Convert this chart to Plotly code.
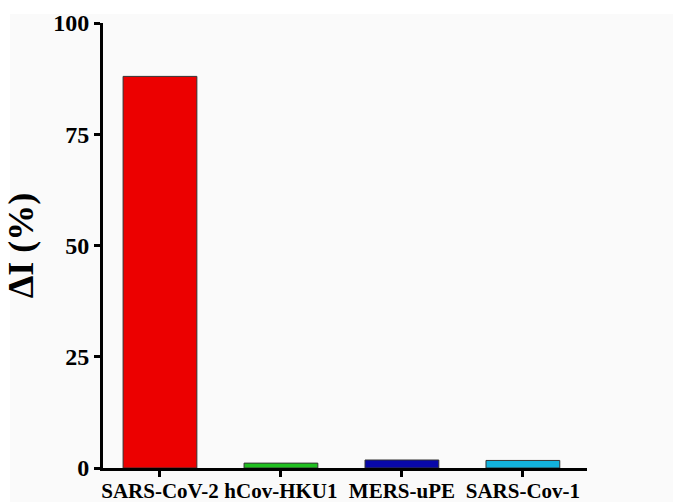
import plotly.graph_objects as go

categories = ["SARS-CoV-2", "hCov-HKU1", "MERS-uPE", "SARS-Cov-1"]
values = [88.0, 1.1, 1.8, 1.7]
colors = ["#ec0000", "#1fbf1f", "#0808a8", "#12b2dc"]
y_ticks = [0, 25, 50, 75, 100]

W, H = 673, 502
L, R, T, B = 103, 86, 23, 34
pw, ph = W - L - R, H - T - B

fig = go.Figure()
fig.add_trace(go.Bar(
    x=categories, y=values, width=0.61,
    marker=dict(color=colors, line=dict(color="#333333", width=1)),
))

font = "Liberation Serif, Times New Roman, serif"
fig.update_layout(
    width=W, height=H,
    margin=dict(l=L, r=R, t=T, b=B),
    paper_bgcolor="white", plot_bgcolor="rgba(0,0,0,0)",
    showlegend=False,
    font=dict(family=font, color="black"),
    shapes=[dict(type="rect", xref="paper", yref="paper", layer="below",
                 x0=(10 - L) / pw, x1=(W - L) / pw,
                 y0=-(B) / ph, y1=(H - B - 14) / ph,
                 fillcolor="#fafafa", line=dict(width=0))],
    xaxis=dict(range=[-0.471, 3.53], showgrid=False, zeroline=False, automargin=False,
               showline=True, linecolor="black", linewidth=3, tickangle=0,
               ticks="outside", ticklen=6, tickwidth=3, tickcolor="black",
               ticklabelstandoff=-4,
               tickfont=dict(family=font, size=21, color="black", weight="bold")),
    yaxis=dict(range=[0, 100], tickvals=y_ticks, showgrid=False, zeroline=False, automargin=False,
               showline=True, linecolor="black", linewidth=3,
               ticks="outside", ticklen=6, tickwidth=3, tickcolor="black",
               tickfont=dict(family=font, size=24, color="black", weight="bold"),
               title=dict(text="ΔI (%)", standoff=9,
                          font=dict(family=font, size=36, color="black", weight="bold"))),
)
fig.write_html("out.html", config={"displayModeBar": False},
               post_script="document.body.style.margin='0';")
